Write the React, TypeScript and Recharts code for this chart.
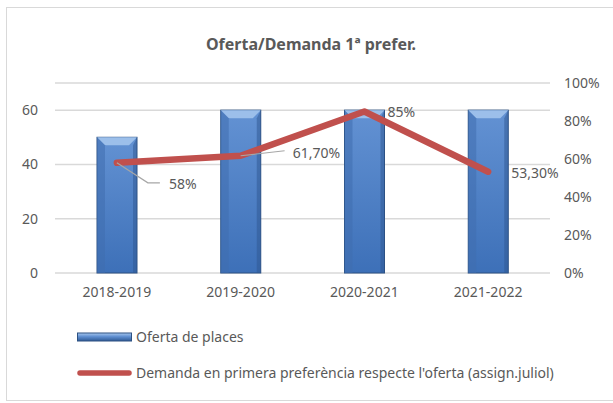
import React from "react";
import {
  ComposedChart,
  Bar,
  Line,
  XAxis,
  YAxis,
  CartesianGrid,
  LabelList,
} from "recharts";

const years = ["2018-2019", "2019-2020", "2020-2021", "2021-2022"];
const oferta = [50, 60, 60, 60];
const demanda = [58, 61.7, 85, 53.3];
const demandaLabels = ["58%", "61,70%", "85%", "53,30%"];
const leftTicks = [0, 20, 40, 60];
const rightTicks = [0, 20, 40, 60, 80, 100];

const title = "Oferta/Demanda 1ª prefer.";
const ofertaName = "Oferta de places";
const demandaName = "Demanda en primera preferència respecte l'oferta (assign.juliol)";

const data = years.map((year, i) => ({
  year,
  oferta: oferta[i],
  demanda: demanda[i],
}));

const FONT = "'Noto Sans', sans-serif";
const TEXT = "#595959";

// label placement relative to each point (Excel had them dragged by hand)
const labelOffsets = [
  { dx: 52, dy: 21, leader: true },
  { dx: 52, dy: -3, leader: true },
  { dx: 23, dy: 1, leader: false },
  { dx: 23, dy: 1, leader: false },
];

const BevelBar = (props: any) => {
  const { x, y, width, height } = props;
  if (!height || height <= 0) return null;
  const b = Math.min(8, width / 4);
  return (
    <g>
      <rect x={x} y={y} width={width} height={height} fill="url(#barBody)" stroke="#2c5182" strokeWidth={1} />
      <polygon
        points={`${x},${y} ${x + width},${y} ${x + width - b},${y + b} ${x + b},${y + b}`}
        fill="#9cbfea"
      />
      <polygon
        points={`${x},${y} ${x + b},${y + b} ${x + b},${y + height} ${x},${y + height}`}
        fill="#3f6eae"
        opacity={0.55}
      />
      <polygon
        points={`${x + width},${y} ${x + width - b / 2},${y + b} ${x + width - b / 2},${y + height} ${x + width},${y + height}`}
        fill="#2d5690"
        opacity={0.5}
      />
    </g>
  );
};

const DemandaLabel = (props: any) => {
  const { x, y, index } = props;
  const o = labelOffsets[index];
  const tx = x + o.dx;
  const ty = y + o.dy;
  return (
    <g>
      {o.leader && index === 0 && (
        <polyline
          points={`${x},${y} ${x + 31},${y + 20} ${x + 43},${y + 20}`}
          fill="none"
          stroke="#a6a6a6"
          strokeWidth={1.2}
        />
      )}
      {o.leader && index === 1 && (
        <line x1={x} y1={y} x2={x + 44} y2={y - 5} stroke="#a6a6a6" strokeWidth={1.2} />
      )}
      <text x={tx} y={ty} dy="0.35em" fill={TEXT} fontSize={14} fontFamily={FONT}>
        {demandaLabels[index]}
      </text>
    </g>
  );
};

export default function App() {
  return (
    <div style={{ position: "absolute", left: 0, top: 0, width: 613, height: 403, background: "#fff", fontFamily: FONT }}>
      <div
        style={{
          position: "absolute",
          left: 6,
          top: 7,
          width: 620,
          height: 394,
          border: "1px solid #d9d9d9",
          boxSizing: "border-box",
        }}
      />
      <div
        style={{
          position: "absolute",
          left: 0,
          width: 622,
          top: 33,
          textAlign: "center",
          fontSize: 16,
          fontWeight: 700,
          color: TEXT,
        }}
      >
        {title}
      </div>
      <div style={{ position: "absolute", left: 0, top: 0 }}>
        <ComposedChart width={613} height={403} data={data} margin={{ top: 83, right: 0, bottom: 90, left: 0 }}>
          <defs>
            <linearGradient id="barBody" x1="0" y1="0" x2="0" y2="1">
              <stop offset="0%" stopColor="#6392d3" />
              <stop offset="100%" stopColor="#3d70b8" />
            </linearGradient>
            <linearGradient id="legendBar" x1="0" y1="0" x2="0" y2="1">
              <stop offset="0%" stopColor="#a9c8ee" />
              <stop offset="45%" stopColor="#5f8fd1" />
              <stop offset="100%" stopColor="#2f5a94" />
            </linearGradient>
          </defs>
          <CartesianGrid yAxisId="left" vertical={false} stroke="#d9d9d9" strokeWidth={1.5} />
          <XAxis
            dataKey="year"
            height={40}
            axisLine={false}
            tickLine={false}
            tickMargin={8}
            tick={{ fill: TEXT, fontSize: 14, fontFamily: FONT }}
          />
          <YAxis
            yAxisId="left"
            orientation="left"
            width={55}
            domain={[0, 70]}
            ticks={leftTicks}
            axisLine={false}
            tickLine={false}
            tickMargin={11}
            tick={{ fill: TEXT, fontSize: 14, fontFamily: FONT }}
          />
          <YAxis
            yAxisId="right"
            orientation="right"
            width={63}
            domain={[0, 100]}
            ticks={rightTicks}
            tickFormatter={(v: number) => `${v}%`}
            axisLine={false}
            tickLine={false}
            tickMargin={8}
            tick={{ fill: TEXT, fontSize: 14, fontFamily: FONT }}
          />
          <Bar yAxisId="left" dataKey="oferta" barSize={40} shape={BevelBar} isAnimationActive={false} />
          <Line
            yAxisId="right"
            dataKey="demanda"
            stroke="#c0504d"
            strokeWidth={6.5}
            strokeLinecap="round"
            strokeLinejoin="round"
            dot={false}
            activeDot={false}
            isAnimationActive={false}
          >
            <LabelList dataKey="demanda" content={DemandaLabel} />
          </Line>
        </ComposedChart>
      </div>
      <div style={{ position: "absolute", left: 77, top: 327, fontSize: 14, color: TEXT, lineHeight: "20px" }}>
        <div style={{ display: "flex", alignItems: "center", height: 20 }}>
          <svg width={56} height={12} style={{ marginRight: 3 }}>
            <rect x={0.5} y={2} width={54} height={8} fill="url(#legendBarLocal)" stroke="#2c5182" />
            <defs>
              <linearGradient id="legendBarLocal" x1="0" y1="0" x2="0" y2="1">
                <stop offset="0%" stopColor="#a9c8ee" />
                <stop offset="45%" stopColor="#5f8fd1" />
                <stop offset="100%" stopColor="#2f5a94" />
              </linearGradient>
            </defs>
          </svg>
          <span>{ofertaName}</span>
        </div>
        <div style={{ display: "flex", alignItems: "center", height: 20, marginTop: 16 }}>
          <svg width={56} height={12} style={{ marginRight: 3 }}>
            <line x1={3} y1={6} x2={52} y2={6} stroke="#c0504d" strokeWidth={5.5} strokeLinecap="round" />
          </svg>
          <span>{demandaName}</span>
        </div>
      </div>
    </div>
  );
}
